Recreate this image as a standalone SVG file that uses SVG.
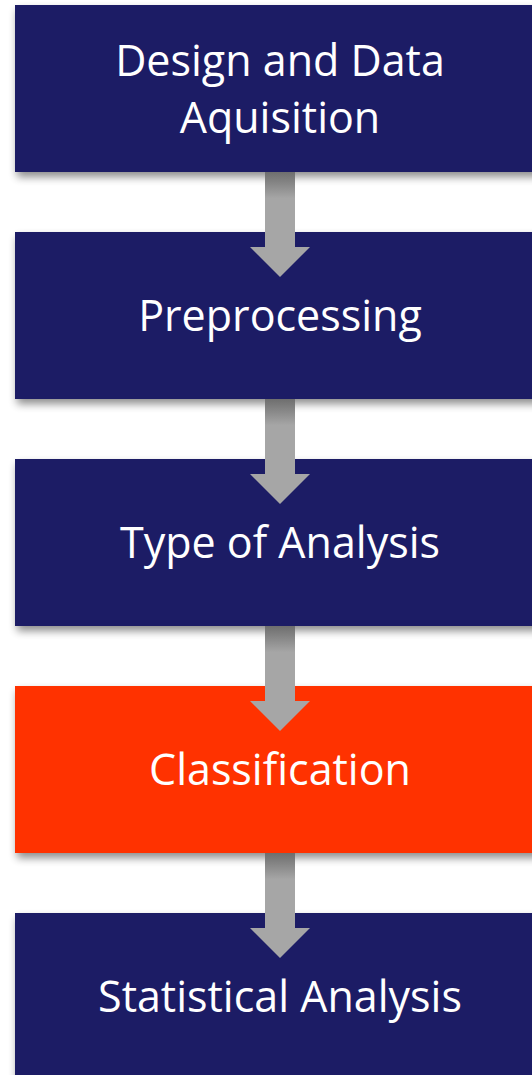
<svg xmlns="http://www.w3.org/2000/svg" width="532" height="1075" viewBox="0 0 532 1075">
  <defs>
    <filter id="drop" x="-10%" y="-20%" width="130%" height="150%">
      <feGaussianBlur in="SourceAlpha" stdDeviation="4"/>
      <feOffset dx="2" dy="5" result="blur"/>
      <feComponentTransfer><feFuncA type="linear" slope="0.45"/></feComponentTransfer>
      <feMerge><feMergeNode/><feMergeNode in="SourceGraphic"/></feMerge>
    </filter>
    <!-- shaft darkens near the top where the box shadow falls on it -->
    <linearGradient id="shaft" x1="0" y1="0" x2="0" y2="1">
      <stop offset="0" stop-color="#6e6e6e"/>
      <stop offset="0.25" stop-color="#a6a6a6"/>
      <stop offset="1" stop-color="#a6a6a6"/>
    </linearGradient>
  </defs>
  <style>
    .box { filter: url(#drop); }
    .navy { fill: #1b1a65; }
    .hot { fill: #ff3300; }
    .label { fill: #ffffff; font-family: "Open Sans", "Noto Sans", sans-serif; font-size: 43px; text-anchor: middle; }
    .arrow { fill: url(#shaft); }
  </style>
  <rect width="532" height="1075" fill="#ffffff"/>

  <g id="design">
    <rect class="box navy" x="15" y="5" width="540" height="167"/>
    <text class="label" x="280" y="76">Design and Data</text>
    <text class="label" x="280" y="133">Aquisition</text>
  </g>
  <g id="preprocessing">
    <rect class="box navy" x="15" y="232" width="540" height="167"/>
    <text class="label" x="280" y="331">Preprocessing</text>
  </g>
  <g id="analysis-type">
    <rect class="box navy" x="15" y="459" width="540" height="167"/>
    <text class="label" x="280" y="558">Type of Analysis</text>
  </g>
  <g id="classification">
    <rect class="box hot" x="15" y="686" width="540" height="167"/>
    <text class="label" x="280" y="785">Classification</text>
  </g>
  <g id="statistics">
    <rect class="box navy" x="15" y="913" width="540" height="180"/>
    <text class="label" x="280" y="1012">Statistical Analysis</text>
  </g>

  <g id="connectors">
    <path class="arrow" d="M265 172 H295 V247 H310 L280 277 L250 247 H265 Z"/>
    <path class="arrow" d="M265 399 H295 V474 H310 L280 504 L250 474 H265 Z"/>
    <path class="arrow" d="M265 626 H295 V701 H310 L280 731 L250 701 H265 Z"/>
    <path class="arrow" d="M265 853 H295 V928 H310 L280 958 L250 928 H265 Z"/>
  </g>
</svg>
